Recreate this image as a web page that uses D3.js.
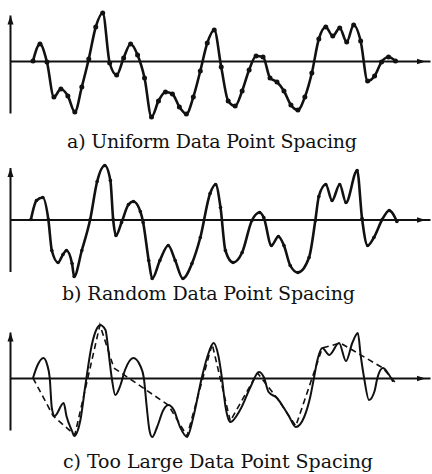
<!DOCTYPE html>
<html>
<head>
<meta charset="utf-8">
<script src="https://cdn.jsdelivr.net/npm/d3@7"></script>
<style>
  body { margin: 0; background: #fff; }
</style>
</head>
<body>
<div class="svg-chart"></div>
<script>
// time axis in sample units, amplitude positive up (arbitrary units)
const uniformTimes = [0, 10, 20, 30, 40, 50, 60, 70, 80, 90, 100, 110, 120, 130, 140, 150, 160, 170, 180, 190,
    200, 210, 220, 230, 240, 250, 260, 270, 280, 290, 300, 310, 320, 330, 340, 350, 360, 370, 380, 390,
    400, 410, 420, 430, 440, 450, 460, 470, 480, 490, 500, 510, 520];
const uniformValues = [0, 1.7, -0.1, -3.6, -2.8, -3.5, -5.1, -2.6, 0.2, 3.4, 4.8, -0.2, -1.4, 0.3, 1.7, 0.6, -1.7, -5.6, -4.0, -3.1,
    -3.3, -4.6, -5.3, -3.6, -1.0, 1.8, 3.1, -0.6, -4.0, -4.5, -3.0, -0.9, 0.5, 0.4, -1.7, -2.1, -3.0, -4.4, -4.9, -3.6,
    -1.2, 2.2, 3.4, 2.5, 3.3, 1.9, 3.6, 2.0, -2.0, -1.5, -0.1, 0.4, 0];

const randomTimes = [-3, 5, 14, 22, 27, 36, 43, 48, 56, 59, 70, 82, 92, 103, 111, 115, 119, 127, 137, 144,
    154, 158, 166, 171, 182, 194, 204, 215, 228, 240, 254, 262, 269, 276, 287, 300, 314, 325, 331, 342,
    352, 360, 369, 380, 396, 405, 410, 420, 429, 440, 449, 465, 472, 480, 489, 501, 511, 522];
const randomValues = [0, 1.9, 2.2, 0, -3.1, -4.3, -3.5, -3.1, -4.4, -5.7, -3.1, 0, 3.8, 5.4, 3.9, 0, -1.6, -0.3, 1.5, 1.8,
    0.8, -0.3, -4.1, -5.9, -4.1, -2.6, -4.1, -5.9, -4.4, -1.8, 2.6, 3.5, 1.2, -3.1, -4.3, -3.3, -0.1, 0.7, 0.2, -2.6,
    -1.7, -2.6, -4.6, -5.3, -3.8, -0.1, 2.3, 3.5, 1.9, 3.5, 1.7, 4.9, 0.1, -2.6, -1.8, 0, 0.9, -0.2];

const signalTimes = [0, 6, 15, 20, 24, 27, 31, 44, 48, 56, 59, 68, 75, 84, 92, 96, 104, 108, 113, 118,
    125, 132, 144, 154, 159, 163, 167, 171, 178, 187, 194, 202, 211, 221, 230, 242, 250, 259, 266, 271,
    276, 283, 297, 312, 324, 331, 338, 350, 360, 367, 377, 389, 398, 403, 408, 415, 425, 439, 449, 458,
    466, 470, 475, 482, 490, 494, 502, 509, 516];
const signalValues = [0, 1.2, 2.0, 1.4, 0, -3.0, -3.8, -2.5, -3.8, -5.3, -5.8, -4.2, -0.8, 3.2, 5.0, 5.3, 4.8, 2.8, 0, -1.7,
    -0.8, 0.8, 2.0, 1.2, 0, -2.8, -5.2, -5.9, -4.9, -3.2, -2.7, -3.2, -4.9, -5.9, -3.9, 0, 2.1, 3.5, 2.2, 0,
    -2.8, -4.4, -3.2, -0.9, 0.6, 0.1, -1.4, -2.0, -3.0, -3.8, -4.9, -3.9, -1.8, 0, 1.8, 3.0, 2.3, 3.5, 1.7, 3.5,
    4.5, 2.3, 0, -2.2, -1.3, 0, 1.0, 0.5, -0.3];

const sparseTimes = [0, 29, 60, 96, 116, 194, 221, 257, 283, 322, 351, 377, 415, 441, 502, 519];
const sparseValues = [0, -3.8, -5.7, 5.3, 1.0, -2.7, -5.8, 3.4, -4.3, 0.5, -2.1, -4.8, 3.0, 3.5, 1.0, -0.4];

const captions = ['a) Uniform Data Point Spacing', 'b) Random Data Point Spacing', 'c) Too Large Data Point Spacing'];

const width = 432;
const height = 474;

const svg = d3.select('.svg-chart').append('svg')
    .attr('width', width)
    .attr('height', height)
    .attr('viewBox', '0 0 ' + width + ' ' + height);

const defs = svg.append('defs');
defs.append('marker')
    .attr('id', 'arrowRight')
    .attr('markerUnits', 'userSpaceOnUse')
    .attr('viewBox', '0 0 14 8')
    .attr('markerWidth', 14)
    .attr('markerHeight', 8)
    .attr('refX', 14)
    .attr('refY', 4)
    .attr('orient', 'auto')
    .append('path')
    .attr('d', 'M0,1L9,4L0,7Z')
    .attr('fill', '#111');
defs.append('marker')
    .attr('id', 'arrowUp')
    .attr('markerUnits', 'userSpaceOnUse')
    .attr('viewBox', '0 0 10 7')
    .attr('markerWidth', 10)
    .attr('markerHeight', 7)
    .attr('refX', 9)
    .attr('refY', 3.5)
    .attr('orient', 'auto')
    .append('path')
    .attr('d', 'M0,0.5L9,3.5L0,6.5Z')
    .attr('fill', '#111');

const x = d3.scaleLinear()
    .domain([-33, 569.5])
    .range([10, 430]);

const panels = [
    { base: 61, top: 4.6, capX: 212, capY: 148, capW: 290 },
    { base: 219.5, top: 5.2, capX: 208.5, capY: 300, capW: 293 },
    { base: 378, top: 4.6, capX: 218, capY: 468, capW: 310 },
];

const curveData = [
    d3.zip(uniformTimes, uniformValues),
    d3.zip(randomTimes, randomValues),
    d3.zip(signalTimes, signalValues),
];

panels.forEach((p, i) => {
    const y = d3.scaleLinear()
        .domain([-6, 5])
        .range([p.base + 60, p.base - 50]);

    const g = svg.append('g');

    // horizontal axis
    g.append('g')
        .attr('transform', 'translate(0,' + y(0) + ')')
        .call(d3.axisBottom(x).tickValues([]).tickSizeOuter(0))
        .call(a => a.select('.domain')
            .attr('stroke', '#111')
            .attr('stroke-width', 2)
            .attr('marker-end', 'url(#arrowRight)'));

    // vertical axis
    const yAxisScale = d3.scaleLinear()
        .domain([-5.2, p.top])
        .range([y(-5.2), y(p.top)]);
    g.append('g')
        .attr('transform', 'translate(' + x.range()[0] + ',0)')
        .call(d3.axisLeft(yAxisScale).tickValues([]).tickSizeOuter(0))
        .call(a => a.select('.domain')
            .attr('stroke', '#111')
            .attr('stroke-width', 2)
            .attr('marker-end', 'url(#arrowUp)'));

    const line = d3.line()
        .x(d => x(d[0]))
        .y(d => y(d[1]))
        .curve(d3.curveMonotoneX);

    g.append('path')
        .datum(curveData[i])
        .attr('fill', 'none')
        .attr('stroke', '#111')
        .attr('stroke-width', i == 2 ? 2 : 2.6)
        .attr('stroke-linejoin', 'round')
        .attr('stroke-linecap', 'round')
        .attr('d', line);

    if (i < 2) {
        g.selectAll('.dot')
            .data(curveData[i])
            .enter()
            .append('circle')
            .attr('fill', '#111')
            .attr('cx', d => x(d[0]))
            .attr('cy', d => y(d[1]))
            .attr('r', i == 0 ? 2.5 : 1.8);
    } else {
        const straight = d3.line()
            .x(d => x(d[0]))
            .y(d => y(d[1]));
        g.append('path')
            .datum(d3.zip(sparseTimes, sparseValues))
            .attr('fill', 'none')
            .attr('stroke', '#111')
            .attr('stroke-width', 1.6)
            .attr('stroke-dasharray', '6,4')
            .attr('d', straight);
    }

    g.append('text')
        .attr('x', p.capX)
        .attr('y', p.capY)
        .attr('text-anchor', 'middle')
        .attr('textLength', p.capW)
        .attr('lengthAdjust', 'spacing')
        .style('font-family', '"DejaVu Serif", "Liberation Serif", serif')
        .style('font-size', '19px')
        .style('fill', '#111')
        .text(captions[i]);
});
</script>
</body>
</html>
